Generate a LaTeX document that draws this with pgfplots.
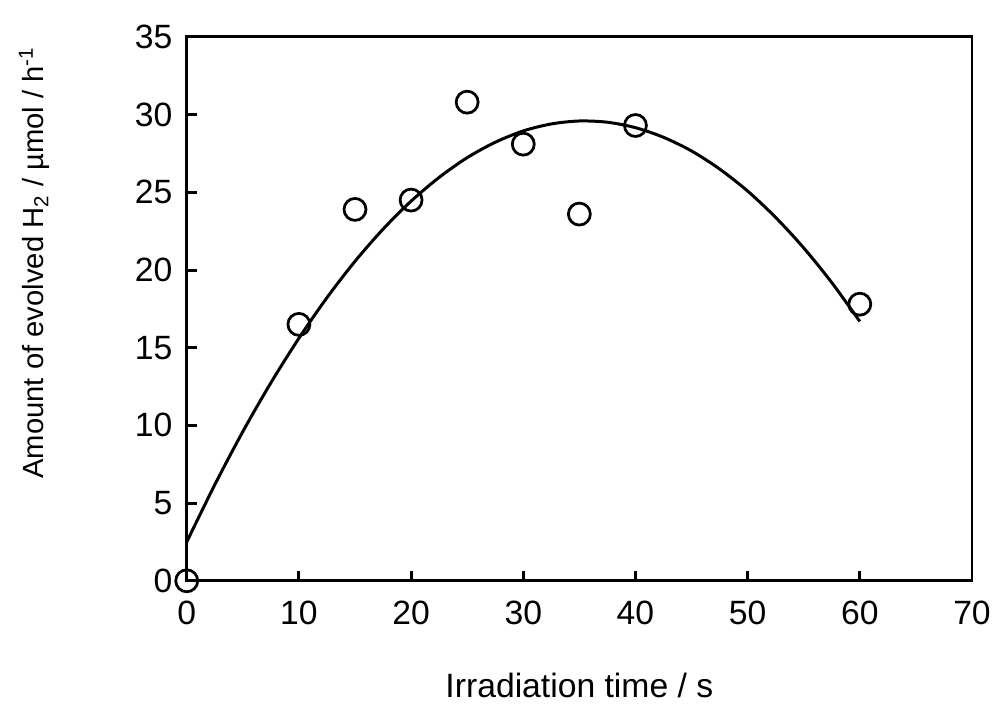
\documentclass[border=0pt]{standalone}
\usepackage{pgfplots}
\pgfplotsset{compat=1.18}
\usepackage{fontspec}
\setmainfont{Liberation Sans}
\begin{document}
\begin{tikzpicture}
\begin{axis}[
  name=ax,
  scale only axis,
  width=11.06cm, height=7.66cm,
  xmin=0, xmax=70, ymin=0, ymax=35,
  xtick={0,10,...,70}, ytick={0,5,...,35},
  tick align=inside,
  xtick pos=bottom, ytick pos=left,
  major tick length=0.14cm,
  axis line style={line width=1.2pt},
  every tick/.style={line width=1.2pt, black},
  /pgf/number format/assume math mode=true,
  tick label style={font=\fontsize{13.5}{16}\selectfont},
  xticklabel style={yshift=-4.4pt},
  yticklabel style={xshift=-2.2pt},
  xlabel={Irradiation time / s},
  ylabel={Amount of evolved H\textsubscript{2} / µmol / h\textsuperscript{-1}},
  xlabel style={font=\fontsize{13.5}{16}\selectfont, at={(axis description cs:0.5,-0.214)}, anchor=base},
  ylabel style={font=\fontsize{11.7}{14}\selectfont, at={(axis description cs:-0.182,0.585)}, anchor=base, rotate=0},
  clip=false,
]
\addplot[black, line width=1.2pt, smooth] coordinates {
(0,2.5) (2.5,6.18) (5,9.60) (7.5,12.74) (10,15.61) (12.5,18.22) (15,20.56)
(17.5,22.63) (20,24.43) (22.5,25.96) (25,27.23) (27.5,28.22) (30,28.95)
(32.5,29.40) (35,29.59) (37.5,29.51) (40,29.16) (42.5,28.54) (45,27.66)
(47.5,26.50) (50,25.08) (52.5,23.38) (55,21.42) (57.5,19.19) (60,16.69)
};
\addplot[only marks, mark=o, mark size=4.4pt, line width=1.1pt, black,
  mark options={fill=white}] coordinates {
(0,0) (10,16.5) (15,23.9) (20,24.5) (25,30.8) (30,28.1) (35,23.6) (40,29.3) (60,17.8)
};
\end{axis}
\pgfresetboundingbox
\path[use as bounding box] ([shift={(-2.63cm,-1.73cm)}]ax.south west) rectangle ([shift={(0.31cm,0.52cm)}]ax.north east);
\end{tikzpicture}
\end{document}
